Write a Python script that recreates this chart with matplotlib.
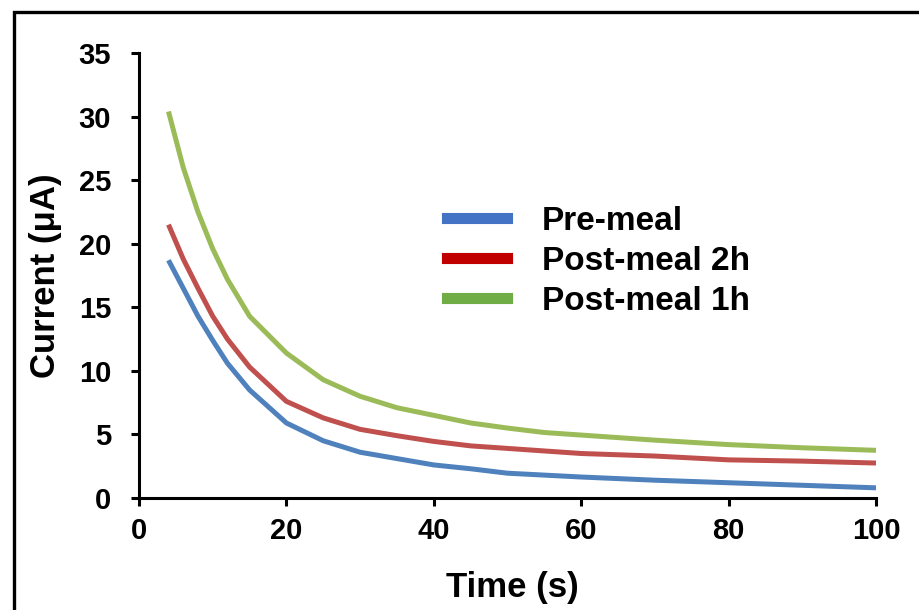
import matplotlib
matplotlib.use("Agg")
import matplotlib.pyplot as plt
from matplotlib.lines import Line2D
from matplotlib.patches import Rectangle

plt.rcParams['font.family'] = ['Liberation Sans', 'DejaVu Sans']
plt.rcParams['font.weight'] = 'bold'

# readings
time_s = [4, 6, 8, 10, 12, 15, 20, 25, 30, 35, 40, 45, 50, 55, 60, 70, 80, 90, 100]
pre_meal = [18.7, 16.5, 14.3, 12.4, 10.6, 8.5, 5.9, 4.5, 3.6, 3.1, 2.6, 2.3, 1.95, 1.8, 1.65, 1.4, 1.2, 1.0, 0.8]
post_2h = [21.5, 18.8, 16.5, 14.3, 12.5, 10.3, 7.6, 6.3, 5.4, 4.9, 4.45, 4.1, 3.9, 3.7, 3.5, 3.3, 3.0, 2.9, 2.75]
post_1h = [30.4, 26.0, 22.5, 19.6, 17.2, 14.3, 11.4, 9.3, 8.0, 7.1, 6.5, 5.9, 5.5, 5.15, 4.95, 4.55, 4.2, 3.95, 3.75]

labels = ['Pre-meal', 'Post-meal 2h', 'Post-meal 1h']
line_colors = ['#4F81BD', '#C0504D', '#9BBB59']
legend_colors = ['#4472C4', '#C00000', '#70AD47']

fig = plt.figure(figsize=(9.19, 6.10), dpi=100)
ax = fig.add_axes([139/919, 1 - 498/610, 737/919, 445/610])

for ys, c in zip([pre_meal, post_2h, post_1h], line_colors):
    ax.plot(time_s, ys, color=c, lw=3.6, solid_capstyle='butt')

ax.set_xlim(0, 100)
ax.set_ylim(0, 35)
ax.set_xticks(range(0, 101, 20))
ax.set_yticks(range(0, 36, 5))
for side in ['top', 'right']:
    ax.spines[side].set_visible(False)
for side in ['left', 'bottom']:
    ax.spines[side].set_linewidth(2.2)
ax.tick_params(direction='out', length=6, width=2.2, labelsize=21)
ax.tick_params(axis='x', pad=8)
ax.tick_params(axis='y', pad=14)

ax.set_xlabel('Time (s)', fontsize=25, fontweight='bold')
ax.set_ylabel('Current (μA)', fontsize=25, fontweight='bold')
ax.xaxis.set_label_coords(0.507, -0.163)
ax.yaxis.set_label_coords(-0.104, 0.5)

handles = [Line2D([], [], color=c, lw=8) for c in legend_colors]
fig.legend(handles, labels, loc='upper left', bbox_to_anchor=(447/919, 1 - 206/610),
           frameon=False, fontsize=24, handlelength=1.8, handletextpad=1.05,
           labelspacing=0.27, borderpad=0, borderaxespad=0)

# black frame around the picture (right and bottom edges fall outside)
fig.patches.append(Rectangle((13.5/919, -0.5), 2.0, 0.5 + 1 - 11.5/610, transform=fig.transFigure,
                             fill=False, edgecolor='black', lw=2.4))

fig.savefig('out.png', dpi=100)
